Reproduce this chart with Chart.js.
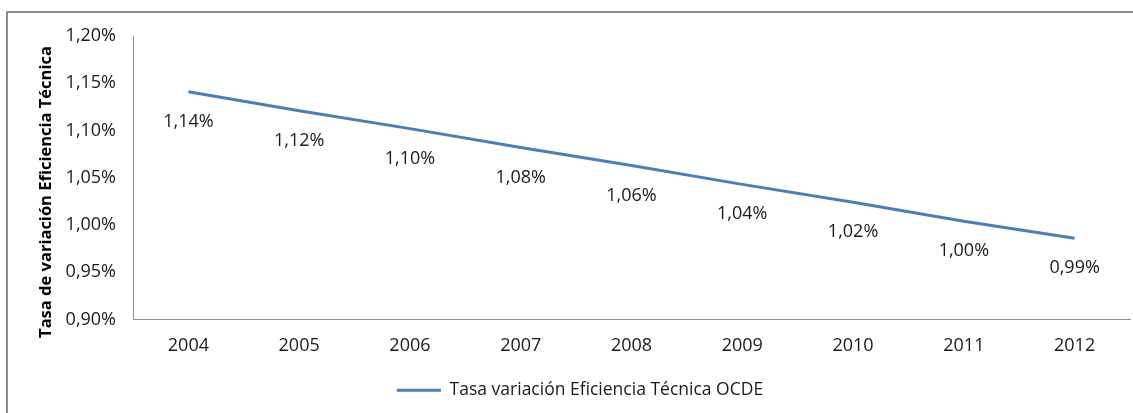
<!DOCTYPE html>
<html>
<head>
<meta charset="utf-8">
<script src="https://cdn.jsdelivr.net/npm/chart.js@4.4.1/dist/chart.umd.min.js"></script>
<style>
    html, body { margin: 0; padding: 0; background: #fff; overflow: hidden; }
    #frame {
        position: absolute; left: 6px; top: 11px;
        width: 1127px; height: 402px;
        border-left: 2px solid #8c8c8c; border-top: 2px solid #8c8c8c;
    }
    #wrap { position: absolute; left: 0; top: 0; width: 1127px; height: 402px; }
</style>
</head>
<body>
<div id="frame"><div id="wrap"><canvas id="chart"></canvas></div></div>
<script>
        // Datos del gráfico
        const years = ['2004', '2005', '2006', '2007', '2008', '2009', '2010', '2011', '2012'];
        const eficiencia = [1.141, 1.121, 1.102, 1.082, 1.063, 1.043, 1.024, 1.004, 0.986];
        const seriesName = 'Tasa variación Eficiencia Técnica OCDE';
        const yTitle = 'Tasa de variación Eficiencia Técnica';

        const fmt = v => v.toFixed(2).replace('.', ',') + '%';

        // Etiquetas de datos debajo de cada punto + título del eje Y
        const labelsPlugin = {
            id: 'labelsPlugin',
            afterDatasetsDraw(chart) {
                const ctx = chart.ctx;
                const meta = chart.getDatasetMeta(0);
                ctx.save();
                ctx.font = '18px "Open Sans"';
                ctx.fillStyle = '#1a1a1a';
                ctx.textAlign = 'center';
                ctx.textBaseline = 'middle';
                meta.data.forEach((pt, i) => {
                    ctx.fillText(fmt(eficiencia[i]), pt.x, pt.y + 30);
                });
                // título eje Y
                ctx.translate(38, 179);
                ctx.rotate(-Math.PI / 2);
                ctx.font = 'bold 16.5px "Open Sans"';
                ctx.fillStyle = '#000';
                ctx.fillText(yTitle, 0, 0);
                ctx.restore();
            }
        };

        const ctx = document.getElementById('chart').getContext('2d');
        new Chart(ctx, {
            type: 'line',
            data: {
                labels: years,
                datasets: [{
                    label: seriesName,
                    data: eficiencia,
                    borderColor: '#4a7ebb',
                    backgroundColor: '#4a7ebb',
                    borderWidth: 3,
                    pointRadius: 0,
                    pointHoverRadius: 0,
                    tension: 0
                }]
            },
            options: {
                responsive: true,
                maintainAspectRatio: false,
                animation: false,
                layout: { padding: { top: 23, right: 5, left: 22, bottom: 6 } },
                plugins: {
                    tooltip: { enabled: false },
                    legend: {
                        position: 'bottom',
                        labels: {
                            usePointStyle: true,
                            pointStyle: 'line',
                            pointStyleWidth: 44,
                            color: '#1a1a1a',
                            padding: 10,
                            font: { family: 'Open Sans', size: 17.5 }
                        }
                    }
                },
                scales: {
                    x: {
                        offset: true,
                        grid: { display: false, drawTicks: false },
                        border: { display: true, color: '#8c8c8c', width: 1 },
                        ticks: { color: '#1a1a1a', padding: 16, font: { family: 'Open Sans', size: 18 } },
                        afterFit(scale) { scale.height = 52; }
                    },
                    y: {
                        min: 0.9,
                        max: 1.2,
                        grid: { display: false, drawTicks: false },
                        border: { display: true, color: '#8c8c8c', width: 1 },
                        ticks: {
                            stepSize: 0.05,
                            color: '#1a1a1a',
                            padding: 17,
                            font: { family: 'Open Sans', size: 18 },
                            callback: v => fmt(v)
                        },
                        afterFit(scale) {
                            scale.width = 103;
                            scale.paddingTop = 0;
                            scale.paddingBottom = 0;
                        }
                    }
                }
            },
            plugins: [labelsPlugin]
        });
</script>
</body>
</html>
